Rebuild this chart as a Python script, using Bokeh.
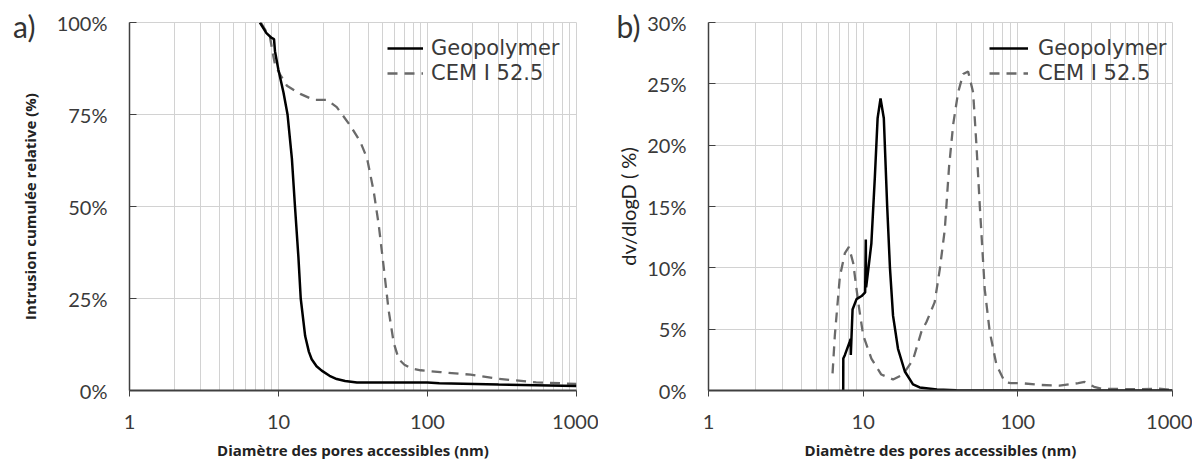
from bokeh.plotting import figure
from bokeh.models import (FixedTicker, PrintfTickFormatter, Range1d, Legend,
                          LegendItem, LinearAxis)
from bokeh.layouts import row
from bokeh.embed import file_html
from bokeh.resources import INLINE

# ---------------- data ----------------
x_ticks = [1, 10, 100, 1000]
x_minor = [2, 3, 4, 5, 6, 7, 8, 9, 20, 30, 40, 50, 60, 70, 80, 90,
           200, 300, 400, 500, 600, 700, 800, 900]
ya_ticks = [0, 25, 50, 75, 100]
yb_ticks = [0, 5, 10, 15, 20, 25, 30]
series_names = ["Geopolymer", "CEM I 52.5"]
panel_tags = ["a)", "b)"]

# a) cumulative relative intrusion (%)
geo_cum_d = [7.5, 8.3, 9.0, 9.33, 9.47, 9.97, 10.8, 11.5, 12.3, 12.9, 13.6,
             14.1, 15.1, 16.0, 16.7, 18.0, 19.5, 22.0, 24.6, 28.0, 33.6, 66,
             100, 120, 300, 1000]
geo_cum_v = [100, 97.1, 95.8, 95.5, 92.2, 87.3, 81, 75, 63, 50, 36.3,
             25, 14.8, 10.5, 8.5, 6.6, 5.4, 4.0, 3.1, 2.6, 2.2, 2.2,
             2.2, 2.0, 1.6, 1.2]
cem_cum_d = [7.6, 8.3, 8.77, 9.23, 9.47, 10.2, 11.4, 14.0, 17.2, 21.1, 24.6,
             30.3, 35.4, 39.3, 43.5, 47, 50.8, 54.8, 59.3, 64.1, 70, 78,
             90, 122, 195, 297, 536, 1000]
cem_cum_v = [100, 97.5, 96, 90.9, 88.6, 86, 82.8, 80.6, 79, 79, 77,
             72, 67.6, 63.1, 54.2, 45.2, 33.6, 21.9, 13, 8.5, 7.0, 6.0,
             5.5, 5.0, 4.3, 3.2, 2.2, 1.8]

# b) dv/dlogD (%)
geo_dist_d = [7.43, 7.44, 7.62, 8.2, 8.3, 8.32, 8.54, 9.06, 9.77, 10.3, 10.4,
              10.45, 10.8, 11.3, 11.9, 12.4, 12.95, 13.6, 14.3, 14.9, 15.6,
              16.8, 18.6, 21, 23.2, 30, 40, 60, 1000]
geo_dist_v = [0, 2.6, 2.9, 4.0, 4.2, 2.9, 6.6, 7.45, 7.7, 8.0, 12.3,
              8.4, 9.9, 12.0, 17.4, 22.2, 23.8, 22.2, 15, 10, 6.1,
              3.4, 1.55, 0.5, 0.25, 0.08, 0.02, 0, 0]
cem_dist_d = [6.34, 6.56, 7.07, 7.62, 8.09, 8.62, 9.29, 10.0, 11.3, 13.1,
              15.6, 18.1, 21.0, 23.8, 25.7, 29, 31.3, 33.7, 35.9, 38.2, 41.1,
              44.3, 47.7, 51.4, 54, 56.8, 61.1, 65.8, 72.7, 82.3, 90, 105,
              140, 186, 246, 270, 311, 348, 580, 818, 1000]
cem_dist_v = [1.4, 4.5, 9.3, 11.2, 11.7, 10.4, 7.2, 4.5, 2.6, 1.3,
              0.9, 1.3, 2.5, 4.8, 5.6, 7.2, 9.9, 13.1, 18.2, 21.7, 24.3,
              25.8, 26, 24.3, 20, 15, 8.25, 4.8, 2.1, 0.7, 0.6, 0.6,
              0.45, 0.4, 0.6, 0.7, 0.3, 0.15, 0.1, 0.15, 0.05]

# ---------------- styling ----------------
TICK_FONT = "Lato"
LEGEND_FONT = "DejaVu Sans"
TITLE_FONT = "Open Sans"
TXT = "#3a3a3a"
GRID = "#d2d2d2"
GEO_COLOR = "#000000"
CEM_COLOR = "#6a6a6a"


def make_fig(width, mb_left, mb_right, y_max, y_ticks, y_label, y_label_font,
             y_label_size, y_label_style, y_label_standoff):
    p = figure(width=width, height=462, x_axis_type="log",
               x_range=Range1d(1, 1000), y_range=Range1d(0, y_max),
               output_backend="svg", toolbar_location=None,
               min_border_left=mb_left, min_border_right=mb_right,
               min_border_top=22, min_border_bottom=68)
    p.outline_line_color = GRID
    p.outline_line_width = 1
    p.background_fill_color = "white"
    p.border_fill_color = "white"

    xa = p.xaxis[0]
    xa.ticker = FixedTicker(ticks=x_ticks, minor_ticks=x_minor)
    xa.formatter = PrintfTickFormatter(format="%d")
    xa.axis_line_color = "#404040"
    xa.axis_line_width = 2
    xa.major_tick_line_color = "#404040"
    xa.major_tick_out = 6
    xa.major_tick_in = 0
    xa.minor_tick_line_color = None
    xa.major_label_text_font = TICK_FONT
    xa.major_label_text_font_size = "20px"
    xa.major_label_text_color = TXT
    xa.major_label_standoff = 18
    xa.axis_label = "Diamètre des pores accessibles (nm)"
    xa.axis_label_text_font = TITLE_FONT
    xa.axis_label_text_font_style = "bold"
    xa.axis_label_text_font_size = "15px"
    xa.axis_label_text_color = "#222222"
    xa.axis_label_standoff = 8

    ya = p.yaxis[0]
    ya.ticker = FixedTicker(ticks=y_ticks)
    ya.formatter = PrintfTickFormatter(format="%d%%")
    ya.axis_line_color = "#404040"
    ya.axis_line_width = 1.5
    ya.major_tick_line_color = "#404040"
    ya.major_tick_in = 7
    ya.major_tick_out = 0
    ya.minor_tick_line_color = None
    ya.major_label_text_font = TICK_FONT
    ya.major_label_text_font_size = "20px"
    ya.major_label_text_color = TXT
    ya.major_label_standoff = 22
    ya.axis_label = y_label
    ya.axis_label_text_font = y_label_font
    ya.axis_label_text_font_size = y_label_size
    ya.axis_label_text_font_style = y_label_style
    ya.axis_label_text_color = "#222222"
    ya.axis_label_standoff = y_label_standoff

    p.xgrid.grid_line_color = GRID
    p.xgrid.minor_grid_line_color = GRID
    p.ygrid.grid_line_color = GRID
    return p


def one_legend(p, label, renderer, vx, vy, glyph_w, standoff):
    lg = Legend(items=[LegendItem(label=label, renderers=[renderer])],
                location=(vx, vy))
    lg.background_fill_alpha = 0
    lg.border_line_color = None
    lg.padding = 6
    lg.margin = 0
    lg.glyph_width = glyph_w
    lg.glyph_height = 20
    lg.label_height = 20
    lg.label_standoff = standoff
    lg.label_text_font = LEGEND_FONT
    lg.label_text_font_size = "21px"
    lg.label_text_color = TXT
    p.add_layout(lg)


def add_curves(p, geo_d, geo_v, cem_d, cem_v, legend_x, glyph_w, standoff):
    r_cem = p.line(cem_d, cem_v, line_color=CEM_COLOR, line_width=2.3,
                   line_dash="10 7")
    r_geo = p.line(geo_d, geo_v, line_color=GEO_COLOR, line_width=2.5)
    one_legend(p, series_names[0], r_geo, legend_x, 330, glyph_w, standoff)
    one_legend(p, series_names[1], r_cem, legend_x, 305, glyph_w, standoff)


def add_tag(p, text, tick, standoff):
    # panel letter drawn as the single label of an extra, invisible left axis
    ax = LinearAxis(ticker=FixedTicker(ticks=[tick]),
                    major_label_overrides={tick: text})
    ax.axis_line_color = None
    ax.major_tick_line_color = None
    ax.minor_tick_line_color = None
    ax.major_tick_in = 0
    ax.major_tick_out = 0
    ax.major_label_standoff = standoff
    ax.major_label_text_font = TICK_FONT
    ax.major_label_text_font_size = "30px"
    ax.major_label_text_color = "#333333"
    p.add_layout(ax, "left")


# ---------------- panel a ----------------
pa = make_fig(598, 129, 22, 100, ya_ticks, "Intrusion cumulée relative (%)",
              TITLE_FONT, "15px", "bold", 14)
add_curves(pa, geo_cum_d, geo_cum_v, cem_cum_d, cem_cum_v, 258, 36, 8)
add_tag(pa, panel_tags[0], 99, -19)

# ---------------- panel b ----------------
pb = make_fig(594, 110, 20, 30, yb_ticks, "dv/dlogD ( %)",
              TICK_FONT, "20px", "normal", 4)
add_curves(pb, geo_dist_d, geo_dist_v, cem_dist_d, cem_dist_v, 281, 39, 10)
add_tag(pb, panel_tags[1], 29.7, -27)

layout = row(pa, pb)
open("out.html", "w").write(file_html(layout, INLINE))
